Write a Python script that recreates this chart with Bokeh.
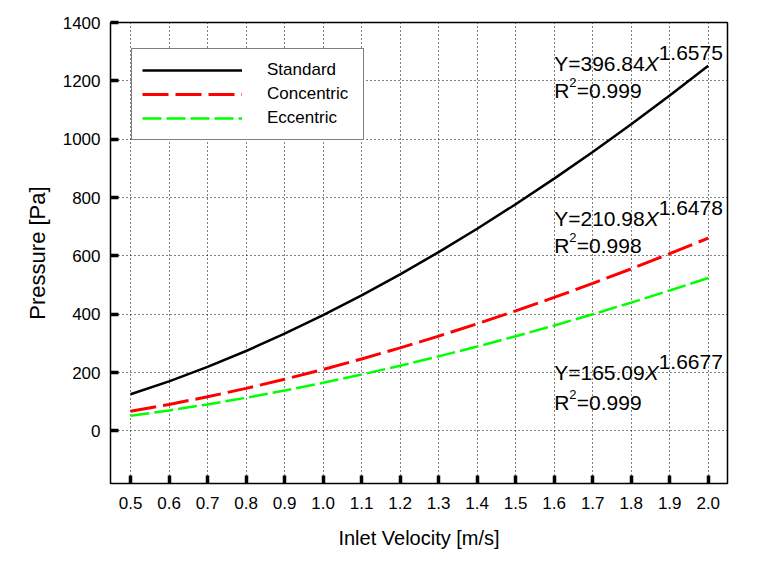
from bokeh.plotting import figure
from bokeh.models import Label, FixedTicker, PrintfTickFormatter, Legend, LegendItem, Range1d
from bokeh.embed import file_html
from bokeh.resources import INLINE

velocity = [0.5, 0.6, 0.7, 0.8, 0.9, 1.0, 1.1, 1.2, 1.3, 1.4, 1.5, 1.6, 1.7, 1.8, 1.9, 2.0]
standard = [125.8, 170.2, 219.7, 274.1, 333.3, 396.8, 464.8, 536.8, 613.0, 693.1,
            777.1, 864.9, 956.3, 1051.3, 1149.9, 1251.9]
concentric = [67.3, 90.9, 117.2, 146.1, 177.3, 211.0, 246.9, 284.9, 325.1, 367.3,
              411.5, 457.7, 505.8, 555.7, 607.5, 661.1]
eccentric = [52.0, 70.4, 91.1, 113.8, 138.5, 165.1, 193.5, 223.7, 255.7, 289.4,
             324.6, 361.5, 400.0, 440.0, 481.5, 524.5]

x_ticks = [0.5, 0.6, 0.7, 0.8, 0.9, 1.0, 1.1, 1.2, 1.3, 1.4, 1.5, 1.6, 1.7, 1.8, 1.9, 2.0]
y_ticks = [0, 200, 400, 600, 800, 1000, 1200, 1400]

series_names = ["Standard", "Concentric", "Eccentric"]
fit_coef = ["396.84", "210.98", "165.09"]
fit_exp = ["1.6575", "1.6478", "1.6677"]
fit_r2 = ["0.999", "0.998", "0.999"]
fit_label_x = [1.6, 1.6, 1.6]
fit_label_y = [1261, 729, 201]
fit_r2_y = [1168, 637, 98]

FONT = "Liberation Sans"

p = figure(width=753, height=554, output_backend="svg", toolbar_location=None,
           x_range=Range1d(0.448, 2.05), y_range=Range1d(-180, 1400),
           min_border_left=110, min_border_right=26, min_border_top=22, min_border_bottom=71)

p.outline_line_color = "black"
p.outline_line_width = 1.5

r_std = p.line(velocity, standard, line_color="black", line_width=2.5)
r_con = p.line(velocity, concentric, line_color="#ff0000", line_width=3, line_dash="26 7")
r_ecc = p.line(velocity, eccentric, line_color="#00ff00", line_width=2.5, line_dash="19 5")

for ax in (p.xaxis[0], p.yaxis[0]):
    ax.axis_line_color = None
    ax.major_tick_in = 8
    ax.major_tick_out = 0
    ax.major_tick_line_width = 3.5
    ax.major_tick_line_color = "black"
    ax.minor_tick_line_color = None
    ax.major_label_text_font = FONT
    ax.major_label_text_font_size = "17px"
    ax.major_label_text_color = "black"
    ax.axis_label_text_font = FONT
    ax.axis_label_text_font_style = "normal"
    ax.axis_label_text_color = "black"

p.xaxis.ticker = FixedTicker(ticks=x_ticks)
p.yaxis.ticker = FixedTicker(ticks=y_ticks)
p.xaxis.formatter = PrintfTickFormatter(format="%.1f")
p.xaxis.axis_label = "Inlet Velocity [m/s]"
p.yaxis.axis_label = "Pressure [Pa]"
p.xaxis.axis_label_text_font_size = "20px"
p.yaxis.axis_label_text_font_size = "22px"
p.xaxis.major_label_standoff = 13
p.yaxis.major_label_standoff = 10
p.xaxis.axis_label_standoff = 15
p.yaxis.axis_label_standoff = 10

for g in (p.xgrid[0], p.ygrid[0]):
    g.grid_line_color = "black"
    g.grid_line_dash = "1 3"
    g.grid_line_width = 1

legend = Legend(items=[LegendItem(label=series_names[0], renderers=[r_std]),
                       LegendItem(label=series_names[1], renderers=[r_con]),
                       LegendItem(label=series_names[2], renderers=[r_ecc])],
                location=(21, 343))
legend.border_line_color = "black"
legend.border_line_width = 1
legend.background_fill_color = "white"
legend.background_fill_alpha = 1
legend.glyph_width = 100
legend.glyph_height = 22
legend.label_height = 22
legend.label_width = 86
legend.label_standoff = 25
legend.padding = 10
legend.spacing = 2
legend.margin = 0
legend.label_text_font = FONT
legend.label_text_font_size = "17px"
legend.label_text_color = "black"
p.add_layout(legend)

FS = 21
for i in range(3):
    base_w = 4.309 * FS
    common = dict(text_font=FONT, text_color="black", text_baseline="alphabetic")
    p.add_layout(Label(x=fit_label_x[i], y=fit_label_y[i], text="Y=" + fit_coef[i],
                       text_font_size=f"{FS}px", **common))
    p.add_layout(Label(x=fit_label_x[i], y=fit_label_y[i], x_offset=base_w, text="X",
                       text_font_size=f"{FS}px", text_font_style="italic", **common))
    p.add_layout(Label(x=fit_label_x[i], y=fit_label_y[i], x_offset=base_w + 0.667 * FS,
                       y_offset=10, text=fit_exp[i], text_font_size=f"{FS}px", **common))
    p.add_layout(Label(x=fit_label_x[i], y=fit_r2_y[i], text="R",
                       text_font_size=f"{FS}px", **common))
    p.add_layout(Label(x=fit_label_x[i], y=fit_r2_y[i], x_offset=0.722 * FS, y_offset=8,
                       text="2", text_font_size="13px", **common))
    p.add_layout(Label(x=fit_label_x[i], y=fit_r2_y[i], x_offset=0.722 * FS + 7.5,
                       text="=" + fit_r2[i], text_font_size=f"{FS}px", **common))

open("out.html", "w").write(file_html(p, INLINE))
